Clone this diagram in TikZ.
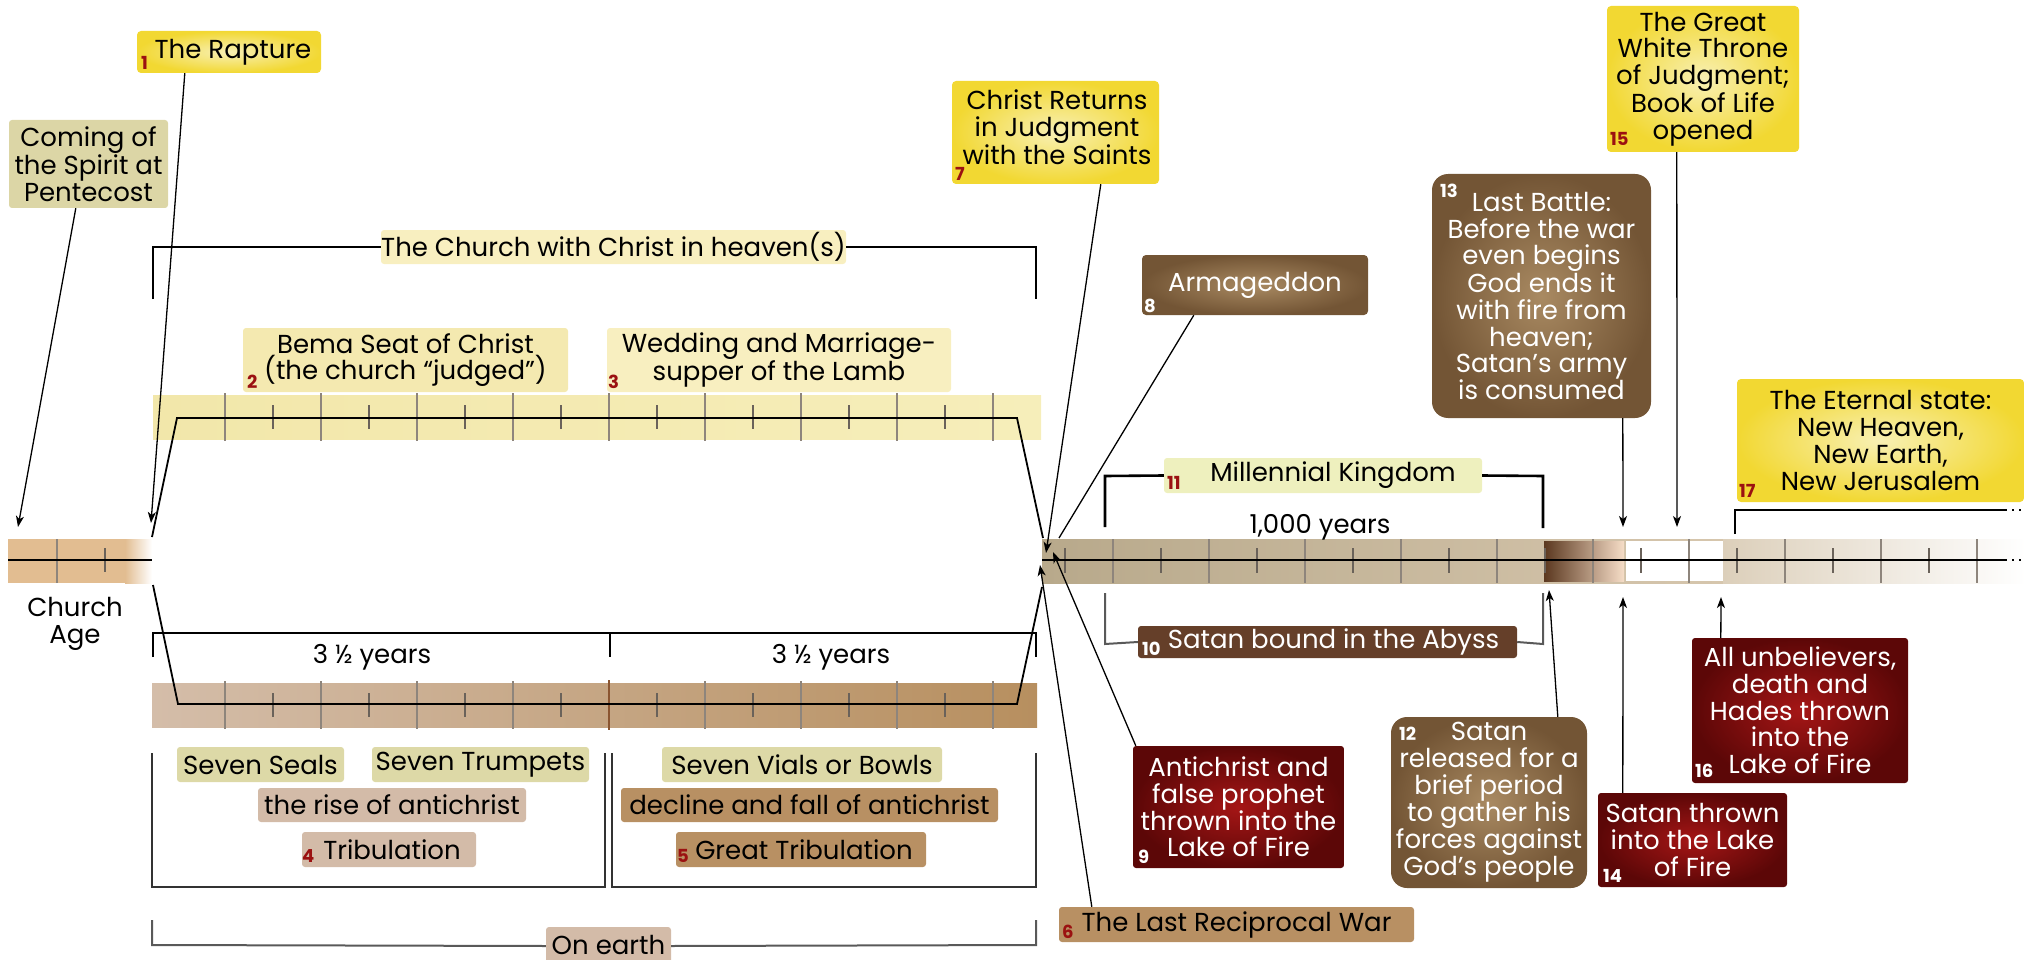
\documentclass[tikz,border=0pt]{standalone}
\usepackage{fontspec}
\setmainfont{Poppins}
\usetikzlibrary{arrows.meta,calc}
\definecolor{yin}{HTML}{F8F0B4}
\definecolor{yout}{HTML}{F2D832}
\definecolor{pentc}{HTML}{DCD6A6}
\definecolor{pale}{HTML}{F8EFC0}
\definecolor{bemac}{HTML}{F4E9B0}
\definecolor{millc}{HTML}{EEF0BE}
\definecolor{sealc}{HTML}{DDD9A7}
\definecolor{risec}{HTML}{D3BBA8}
\definecolor{declc}{HTML}{B89063}
\definecolor{bin}{HTML}{A98A62}
\definecolor{bout}{HTML}{735535}
\definecolor{boundc}{HTML}{653F29}
\definecolor{rin}{HTML}{A51616}
\definecolor{rout}{HTML}{5C0707}
\definecolor{numred}{HTML}{9B1111}
\definecolor{caband}{HTML}{E2BD91}
\definecolor{upL}{HTML}{F2E7AA}
\definecolor{upR}{HTML}{F6EEBA}
\definecolor{loL}{HTML}{D4BDA9}
\definecolor{loR}{HTML}{B78F5F}
\definecolor{midc}{HTML}{8A5530}
\definecolor{miL}{HTML}{B8A98B}
\definecolor{miR}{HTML}{D6C6AD}
\definecolor{darkL}{HTML}{5B381F}
\definecolor{darkR}{HTML}{F6DDC7}
\definecolor{etL}{HTML}{DCCFBA}
\definecolor{tickc}{HTML}{8E857C}
\definecolor{tickm}{HTML}{6A625A}
\begin{document}
\begin{tikzpicture}[x=1pt,y=-1pt,
  txt/.style={font=\fontsize{26}{26.7}\selectfont, align=center, inner sep=0pt},
  ybox/.style={txt, rounded corners=4pt, inner color=yin, outer color=yout},
  flat/.style={txt, rounded corners=3pt, fill=#1},
  bbox/.style={txt, text=white, inner color=bin, outer color=bout},
  rbox/.style={txt, text=white, rounded corners=3pt, inner color=rin, outer color=rout},
  num/.style={font=\fontsize{18}{18}\selectfont\bfseries, text=numred, inner sep=0pt, anchor=base west},
  wnum/.style={num, text=white},
  arr/.style={-{Stealth[length=11pt,width=8pt,inset=3pt]}, line width=1.3pt},
  conn/.style={line width=1.3pt},
  brk/.style={line width=2.6pt, black},
  gbrk/.style={line width=2pt, black!65},
  thinb/.style={line width=1.4pt, black!80},
  axis/.style={line width=1.8pt, black},
  major/.style={line width=2pt, tickc},
  minor/.style={line width=1.2pt, tickm},
]
\useasboundingbox (0,0) rectangle (2026,960);

% ---------- Church age band
\fill[caband] (8,539) rectangle (125,583);
\shade[left color=caband, right color=white] (125,539) rectangle (152,583);
\draw[major] (57,539) -- (57,583);
\draw[minor] (105,548) -- (105,572);
\draw[axis] (8,560) -- (152,560);
\node[txt] (churchage) at (75,624) {Church\\Age};

% ---------- upper band
\shade[left color=upL, right color=upR] (153,395) rectangle (1041,439);
\foreach \i in {0,...,8} \draw[major] ({225+96*\i},393) -- ({225+96*\i},441);
\foreach \i in {0,...,7} \draw[minor] ({273+96*\i},405) -- ({273+96*\i},429);
\draw[axis] (152,537) -- (177,418) -- (1017,418) -- (1043,538);

% ---------- lower band
\shade[left color=loL, right color=loR] (152,683) rectangle (1037,727);
\foreach \i in {0,1,2,3,5,6,7,8} \draw[major] ({225+96*\i},681) -- ({225+96*\i},729);
\draw[line width=2.2pt, midc] (609,680) -- (609,730);
\foreach \i in {0,...,7} \draw[minor] ({273+96*\i},693) -- ({273+96*\i},717);
\draw[axis] (153,585) -- (178,704) -- (1017,704) -- (1042,587);

% ---------- millennium and eternal band
\shade[left color=miL, right color=miR] (1042,539) rectangle (1723,583);
\shade[left color=darkL, right color=darkR] (1544,541) rectangle (1624,581);
\fill[white] (1626,541) rectangle (1723,581);
\shade[left color=etL, right color=white] (1723,539) rectangle (2026,583);
\foreach \i in {0,...,9} \draw[minor] ({1065+96*\i},548) -- ({1065+96*\i},573);
\foreach \i in {0,...,9} \draw[major] ({1113+96*\i},539) -- ({1113+96*\i},583);
\draw[axis] (1042,560) -- (2007,560);
\draw[axis, dash pattern=on 2pt off 5pt] (2012,560) -- (2026,560);

% ---------- labels over bands
\node[txt, anchor=base] (y1) at (372,663) {3 ½ years};
\node[txt, anchor=base] (y2) at (831,663) {3 ½ years};
\node[txt, anchor=base] (ky) at (1320,533) {1,000 years};

% ---------- boxes
\node[ybox, minimum width=184pt, minimum height=42pt] (rapture) at (229,52) {\hspace*{8pt}The Rapture};
\node[num] (n1) at (141,70) {1};
\node[flat=pentc, minimum width=159pt, minimum height=88pt] (pent) at (88.5,164) {Coming of\\the Spirit at\\Pentecost};
\node[flat=pale, minimum width=465pt, minimum height=34pt] (church) at (613.5,247) {The Church with Christ in heaven(s)};
\node[flat=bemac, minimum width=325pt, minimum height=64pt] (bema) at (405.5,360) {Bema Seat of Christ\\(the church “judged”)};
\node[num] (n2) at (247,388) {2};
\node[flat=pale, minimum width=344pt, minimum height=64pt] (wedding) at (779,360) {Wedding and Marriage-\\supper of the Lamb};
\node[num] (n3) at (608,388) {3};
\node[ybox, minimum width=207pt, minimum height=103pt] (christ) at (1055.5,132.5) {};
\node[txt] (christtxt) at (1057,127) {Christ Returns\\in Judgment\\with the Saints};
\node[num] (n7) at (955,181) {7};
\node[bbox, rounded corners=4pt, minimum width=226pt, minimum height=60pt] (armag) at (1255,285) {Armageddon};
\node[wnum] (n8) at (1144,312) {8};
\node[bbox, rounded corners=16pt, minimum width=219pt, minimum height=244pt] (battle) at (1541.5,296) {Last Battle:\\Before the war\\even begins\\God ends it\\with fire from\\heaven;\\Satan’s army\\is consumed};
\node[wnum] (n13) at (1440,197) {13};
\node[ybox, minimum width=192pt, minimum height=146pt] (gwt) at (1703,79) {The Great\\White Throne\\of Judgment;\\Book of Life\\opened};
\node[num] (n15) at (1610,146) {15};
\node[ybox, minimum width=287pt, minimum height=123pt] (eternal) at (1880.5,440.5) {The Eternal state:\\New Heaven,\\New Earth,\\New Jerusalem};
\node[num] (n17) at (1739,497) {17};
\node[flat=millc, minimum width=318pt, minimum height=35pt] (mill) at (1323,475.5) {\hspace*{20pt}Millennial Kingdom};
\node[num] (n11) at (1167,489) {11};
\node[flat=boundc, text=white, minimum width=379pt, minimum height=32pt] (bound) at (1327.5,642) {\hspace*{12pt}Satan bound in the Abyss};
\node[wnum] (n10) at (1142,655) {10};
\node[rbox, minimum width=211pt, minimum height=122pt] (anti) at (1238.5,807) {Antichrist and\\false prophet\\thrown into the\\Lake of Fire};
\node[wnum] (n9) at (1138,863) {9};
\node[bbox, rounded corners=16pt, minimum width=196pt, minimum height=171pt] (released) at (1489,802.5) {Satan\\released for a\\brief period\\to gather his\\forces against\\God’s people};
\node[wnum] (n12) at (1399,740) {12};
\node[rbox, minimum width=189pt, minimum height=94pt] (thrown) at (1692.5,840) {Satan thrown\\into the Lake\\of Fire};
\node[wnum] (n14) at (1603,882) {14};
\node[rbox, minimum width=216pt, minimum height=145pt] (unbel) at (1800,710.5) {All unbelievers,\\death and\\Hades thrown\\into the\\Lake of Fire};
\node[wnum] (n16) at (1695,777) {16};
\node[flat=declc, minimum width=355pt, minimum height=35pt] (lastwar) at (1236.5,924.5) {The Last Reciprocal War};
\node[num] (n6) at (1062,938) {6};

\node[flat=sealc, minimum width=167pt, minimum height=35pt] (seals) at (260.5,764.5) {Seven Seals};
\node[flat=sealc, minimum width=217pt, minimum height=35pt] (trumpets) at (480.5,764.5) {Seven Trumpets};
\node[flat=risec, minimum width=268pt, minimum height=34pt] (rise) at (392,805) {the rise of antichrist};
\node[flat=risec, minimum width=174pt, minimum height=35pt] (trib) at (389,849.5) {\hspace*{6pt}Tribulation};
\node[num] (n4) at (302,862) {4};
\node[flat=sealc, minimum width=280pt, minimum height=35pt] (vials) at (802,764.5) {Seven Vials or Bowls};
\node[flat=declc, minimum width=377pt, minimum height=34pt] (decline) at (809.5,805) {decline and fall of antichrist};
\node[flat=declc, minimum width=250pt, minimum height=35pt] (gtrib) at (801,849.5) {\hspace*{6pt}Great Tribulation};
\node[num] (n5) at (677,862) {5};
\node[flat=risec, minimum width=125pt, minimum height=38pt] (earth) at (608.5,946) {};
\node[txt, anchor=base] (earthtxt) at (608.5,954) {On earth};

% ---------- brackets
\draw[brk] (153,299) -- (153,247) -- (church.west);
\draw[brk] (church.east) -- (1036,247) -- (1036,299);
\draw[brk] (153,657) -- (153,633) -- (1036,633) -- (1036,657);
\draw[brk] (610,633) -- (610,657);
\draw[thinb] (152,753) -- (152,887) -- (605,887) -- (605,753);
\draw[thinb] (612,753) -- (612,887) -- (1036,887) -- (1036,753);
\draw[gbrk] (152,920) -- (152,945) -- (earth.west);
\draw[gbrk] (earth.east) -- (1036,945) -- (1036,920);
\draw[brk] (1105,527) -- (1105,476) -- (mill.west);
\draw[brk] (mill.east) -- (1543,476) -- (1543,528);
\draw[gbrk] (1105,593) -- (1105,644) -- (bound.west);
\draw[gbrk] (bound.east) -- (1543,644) -- (1543,593);
\draw[brk] (1735,534) -- (1735,510) -- (2007,510);
\draw[brk, dash pattern=on 2pt off 5pt] (2012,510) -- (2026,510);

% ---------- arrows
\coordinate (tPent) at (18,527);
\coordinate (tRapt) at (151,523);
\coordinate (tChrist) at (1046,553);
\coordinate (tArmag) at (1059,538);
\coordinate (tAnti) at (1053,552);
\coordinate (tWar) at (1040,565);
\coordinate (tBattle) at (1623,527);
\coordinate (tGwt) at (1677,527);
\coordinate (tRel) at (1549,590);
\coordinate (tThrown) at (1623,597);
\coordinate (tUnbel) at (1721,597);
\draw[arr] ($(pent.south west)+(67,0)$) -- (tPent);
\draw[arr] ($(rapture.south west)+(48,0)$) -- (tRapt);
\draw[arr] ($(christ.south west)+(149,0)$) -- (tChrist);
\draw[conn] ($(armag.south west)+(52,0)$) -- (tArmag);
\draw[arr] ($(anti.north west)+(3,0)$) -- (tAnti);
\draw[arr] ($(lastwar.north west)+(33,0)$) -- (tWar);
\draw[arr] ($(battle.south west)+(191,0)$) -- (tBattle);
\draw[arr] ($(gwt.south west)+(70,0)$) -- (tGwt);
\draw[arr] ($(released.north west)+(167,0)$) -- (tRel);
\draw[arr] ($(thrown.north west)+(25,0)$) -- (tThrown);
\draw[arr] ($(unbel.north west)+(29,0)$) -- (tUnbel);
\end{tikzpicture}
\end{document}
